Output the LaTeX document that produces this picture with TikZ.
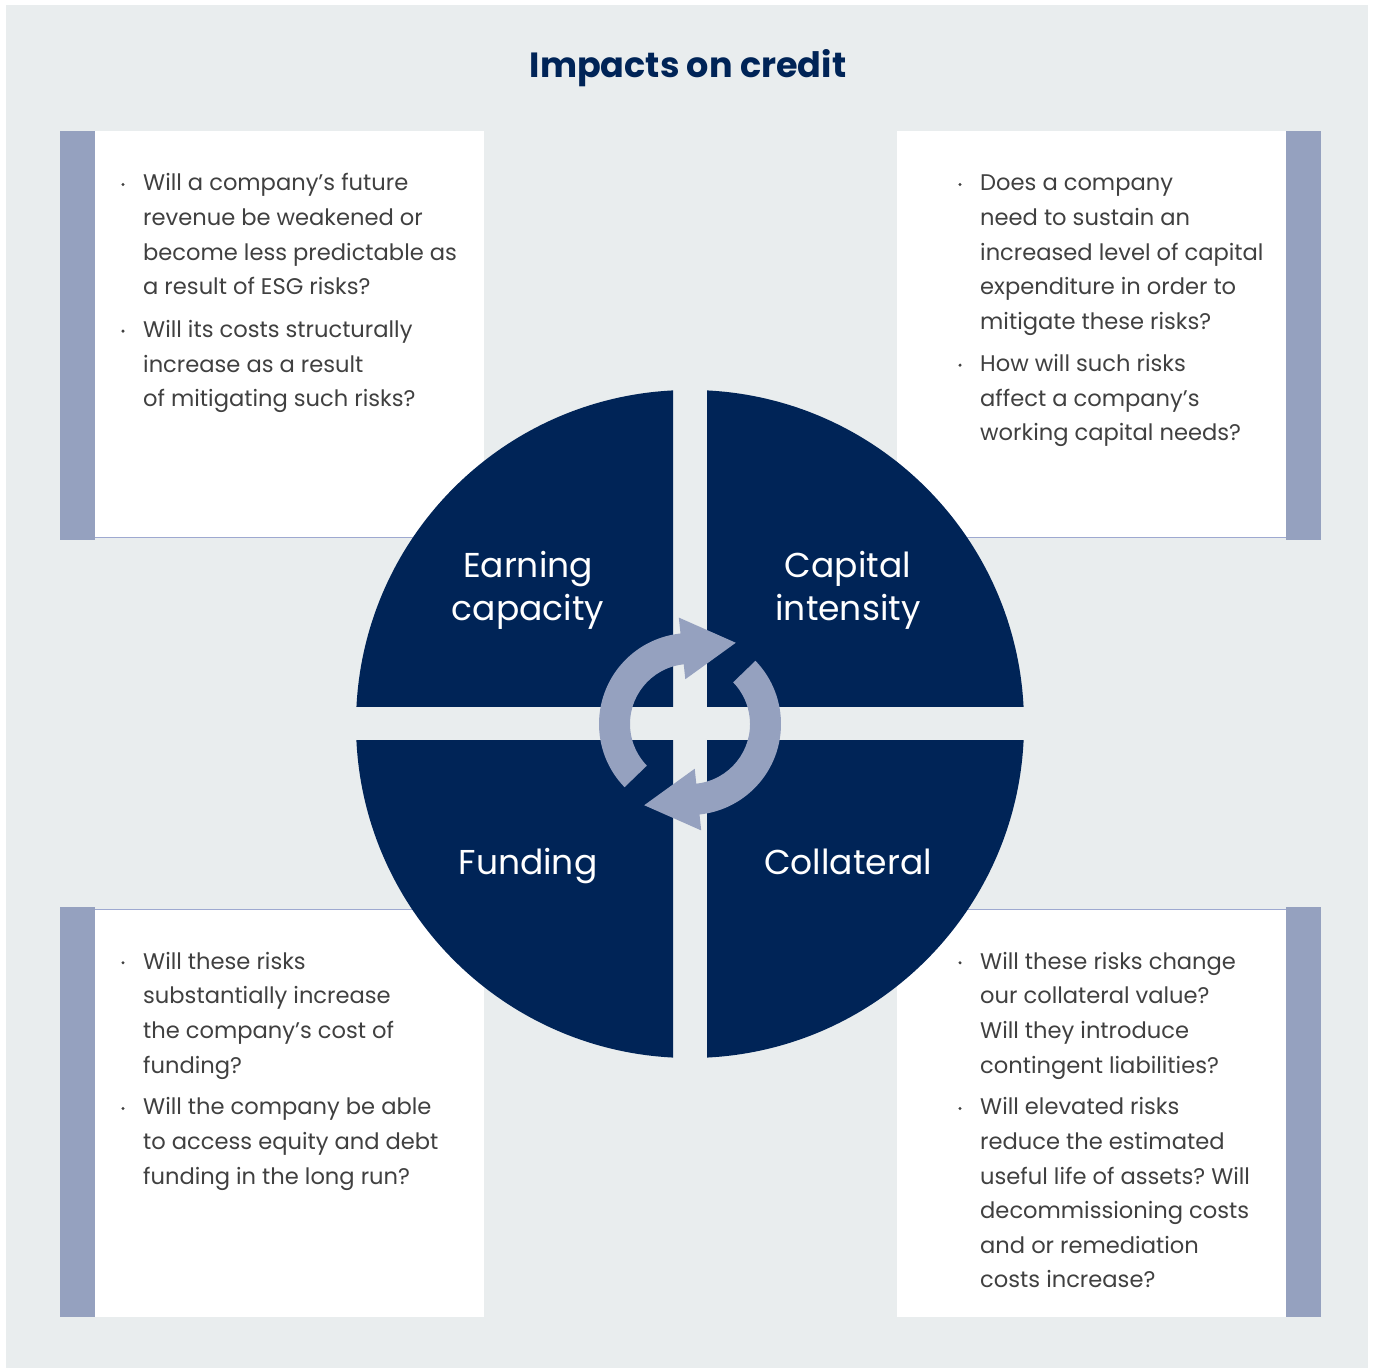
\documentclass[tikz,border=0pt]{standalone}
\usepackage{fontspec}
\setmainfont{Poppins}
\usetikzlibrary{calc}
\frenchspacing

\definecolor{navy}{RGB}{0,36,87}
\definecolor{stripcol}{RGB}{149,161,191}
\definecolor{pagebg}{RGB}{233,237,238}
\definecolor{bodygrey}{RGB}{64,64,64}
\definecolor{rulecol}{RGB}{158,169,208}

% one bulleted paragraph: name, left x of text, first baseline, lines
\newcommand\bulletblock[4]{%
  \fill[bodygrey] ($(#2,#3)+(-20,6.5)$) circle[radius=1.7];
  \foreach \ln [count=\k from 0] in {#4} {
    \node[bodytext] (#1-\k) at ($(#2,#3)+(0,-\k*34.6)$) {\ln};
  }%
}

\begin{document}
\begin{tikzpicture}[x=1pt,y=1pt,
  bodytext/.style={font=\fontsize{22.6}{26}\selectfont, text=bodygrey, inner sep=0pt, anchor=base west},
  quadlabel/.style={font=\fontsize{34.5}{43}\selectfont, text=white, inner sep=0pt, anchor=base},
  titletext/.style={font=\fontsize{35}{40}\selectfont\bfseries, text=navy, inner sep=0pt, anchor=base},
  panel/.style={fill=white},
  sidebar/.style={fill=stripcol},
  edgerule/.style={draw=rulecol, line width=1.5pt},
  quarter/.style={fill=navy},
  cyclearrow/.style={fill=stripcol}]

\useasboundingbox (0,0) rectangle (1375,1370);
\fill[white] (0,0) rectangle (1375,1370);
\fill[pagebg] (6,2) rectangle (1368,1365);

% title
\node[titletext] (title) at (688,1292) {Impacts on credit};

% question panels with side bars
\fill[sidebar] (60,830) rectangle (95,1239);
\fill[panel] (95,833) rectangle (484,1239);
\draw[edgerule] (95,832.5) -- (484,832.5);

\fill[sidebar] (1286,830) rectangle (1321,1239);
\fill[panel] (897,833) rectangle (1286,1239);
\draw[edgerule] (897,832.5) -- (1286,832.5);

\fill[sidebar] (60,53.5) rectangle (95,462.5);
\fill[panel] (95,53.5) rectangle (484,459.5);
\draw[edgerule] (95,460.5) -- (484,460.5);

\fill[sidebar] (1286,53.5) rectangle (1321,462.5);
\fill[panel] (897,53.5) rectangle (1286,459.5);
\draw[edgerule] (897,460.5) -- (1286,460.5);

% the four quarters of the disc
\coordinate (ctr) at (690,646);
\begin{scope}
  \clip (340,663) rectangle (673,1000);
  \fill[quarter] (ctr) circle[radius=334];
\end{scope}
\begin{scope}
  \clip (707,663) rectangle (1040,1000);
  \fill[quarter] (ctr) circle[radius=334];
\end{scope}
\begin{scope}
  \clip (340,290) rectangle (673,629);
  \fill[quarter] (ctr) circle[radius=334];
\end{scope}
\begin{scope}
  \clip (707,290) rectangle (1040,629);
  \fill[quarter] (ctr) circle[radius=334];
\end{scope}

% quarter labels
\node[quadlabel] (earn1) at (528,792.3) {Earning};
\node[quadlabel] (earn2) at (528,749.3) {capacity};
\node[quadlabel] (cap1) at (848,792.3) {Capital};
\node[quadlabel] (cap2) at (848,749.3) {intensity};
\node[quadlabel] (fund) at (528,495) {Funding};
\node[quadlabel] (coll) at (848,495) {Collateral};

% circular arrows in the middle
\begin{scope}[shift={(ctr)}]
  \fill[cyclearrow] (224:91) arc[start angle=224, end angle=96, radius=91]
    -- (96:107) -- ($(96:76)+(6:54)$) -- (96:45) -- (96:60)
    arc[start angle=96, end angle=224, radius=60] -- cycle;
  \fill[cyclearrow] (44:91) arc[start angle=44, end angle=-84, radius=91]
    -- (-84:107) -- ($(-84:76)+(-174:54)$) -- (-84:45) -- (-84:60)
    arc[start angle=-84, end angle=44, radius=60] -- cycle;
\end{scope}

% panel texts
\bulletblock{tla}{143}{1179}{Will a company’s future, revenue be weakened or, become less predictable as, a result of ESG risks?}
\bulletblock{tlb}{143}{1032.3}{Will its costs structurally, increase as a result, of mitigating such risks?}

\bulletblock{tra}{980}{1179}{Does a company, need to sustain an, increased level of capital, expenditure in order to, mitigate these risks?}
\bulletblock{trb}{980}{998.3}{How will such risks, affect a company’s, working capital needs?}

\bulletblock{bla}{143}{400.7}{Will these risks, substantially increase, the company’s cost of, funding?}
\bulletblock{blb}{143}{255}{Will the company be able, to access equity and debt, funding in the long run?}

\bulletblock{bra}{980}{400.7}{Will these risks change, our collateral value?, Will they introduce, contingent liabilities?}
\bulletblock{brb}{980}{255}{Will elevated risks, reduce the estimated, useful life of assets? Will, decommissioning costs, and or remediation, costs increase?}

\end{tikzpicture}
\end{document}
